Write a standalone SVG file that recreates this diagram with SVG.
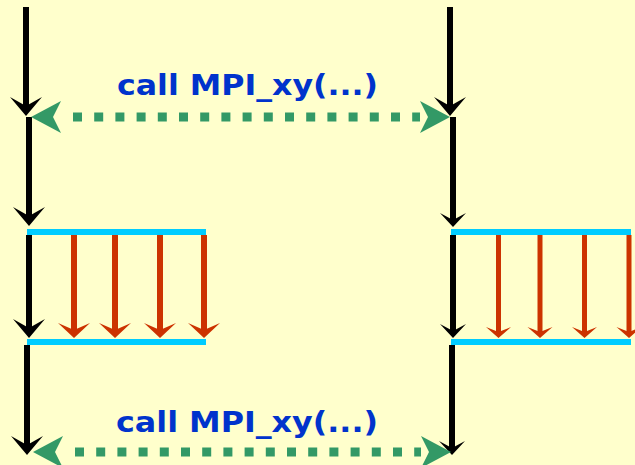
<svg xmlns="http://www.w3.org/2000/svg" width="635" height="465" viewBox="0 0 635 465">
<style>
.bk{stroke:#000;stroke-width:6;fill:none}
.rd{stroke:#CC3300;fill:none}
.cy{stroke:#00CCFF;stroke-width:6;fill:none}
.gr{stroke:#339966;stroke-width:9;fill:none;stroke-dasharray:9 12.2;stroke-dashoffset:9.2}
.lbl{font-family:"DejaVu Sans","Liberation Sans",sans-serif;font-weight:bold;font-size:29px;fill:#0033CC}
</style>
<defs>
<marker id="bkB" markerUnits="userSpaceOnUse" orient="auto" refX="11" refY="0" markerWidth="20" markerHeight="34" viewBox="0 -17 20 34" overflow="visible"><path d="M19,0 L0,-16 L9,0 L0,16 Z" fill="#000"/></marker>
<marker id="bkS" markerUnits="userSpaceOnUse" orient="auto" refX="8" refY="0" markerWidth="15" markerHeight="28" viewBox="0 -14 15 28" overflow="visible"><path d="M14,0 L0,-13 L7,0 L0,13 Z" fill="#000"/></marker>
<marker id="rdL" markerUnits="userSpaceOnUse" orient="auto" refX="9" refY="0" markerWidth="16" markerHeight="34" viewBox="0 -17 16 34" overflow="visible"><path d="M15,0 L0,-16 L7,0 L0,16 Z" fill="#CC3300"/></marker>
<marker id="rdR" markerUnits="userSpaceOnUse" orient="auto" refX="7" refY="0" markerWidth="12" markerHeight="26" viewBox="0 -13 12 26" overflow="visible"><path d="M11,0 L0,-12.5 L5,0 L0,12.5 Z" fill="#CC3300"/></marker>
<marker id="grA" markerUnits="userSpaceOnUse" orient="auto-start-reverse" refX="0" refY="0" markerWidth="31" markerHeight="34" viewBox="0 -17 31 34" overflow="visible"><path d="M30,0 L0,-16 L8,0 L0,16 Z" fill="#339966"/></marker>
</defs>
<rect x="0" y="0" width="635" height="465" fill="#FFFFCC"/>

<g id="process-left">
<line class="bk" x1="26" y1="7" x2="26" y2="108" marker-end="url(#bkB)"/>
<line class="bk" x1="29" y1="117" x2="29" y2="218" marker-end="url(#bkB)"/>
<line class="bk" x1="29" y1="235" x2="29" y2="330" marker-end="url(#bkB)"/>
<line class="bk" x1="27" y1="345" x2="27" y2="447" marker-end="url(#bkB)"/>
<g id="copy-left">
<line class="cy" x1="27" y1="232" x2="206" y2="232"/>
<line class="cy" x1="27" y1="342" x2="206" y2="342"/>
<line class="rd" stroke-width="6" x1="74" y1="235" x2="74" y2="332" marker-end="url(#rdL)"/>
<line class="rd" stroke-width="6" x1="115" y1="235" x2="115" y2="332" marker-end="url(#rdL)"/>
<line class="rd" stroke-width="6" x1="160" y1="235" x2="160" y2="332" marker-end="url(#rdL)"/>
<line class="rd" stroke-width="6" x1="204" y1="235" x2="204" y2="332" marker-end="url(#rdL)"/>
</g>
</g>

<g id="process-right">
<line class="bk" x1="450" y1="7" x2="450" y2="108" marker-end="url(#bkB)"/>
<line class="bk" x1="453" y1="117" x2="453" y2="221" marker-end="url(#bkS)"/>
<line class="bk" x1="453" y1="235" x2="453" y2="332" marker-end="url(#bkS)"/>
<line class="bk" x1="452" y1="345" x2="452" y2="449" marker-end="url(#bkS)"/>
<g id="copy-right">
<line class="cy" x1="451" y1="232" x2="631" y2="232"/>
<line class="cy" x1="451" y1="342" x2="631" y2="342"/>
<line class="rd" stroke-width="5" x1="498.5" y1="235" x2="498.5" y2="334" marker-end="url(#rdR)"/>
<line class="rd" stroke-width="5" x1="540" y1="235" x2="540" y2="334" marker-end="url(#rdR)"/>
<line class="rd" stroke-width="5" x1="584.5" y1="235" x2="584.5" y2="334" marker-end="url(#rdR)"/>
<line class="rd" stroke-width="5" x1="629" y1="235" x2="629" y2="334" marker-end="url(#rdR)"/>
</g>
</g>

<g id="connectors">
<path class="gr" d="M61,117 L420,117" marker-start="url(#grA)" marker-end="url(#grA)"/>
<path class="gr" d="M63,452 L421,452" marker-start="url(#grA)" marker-end="url(#grA)"/>
</g>

<g id="labels">
<text class="lbl" x="117" y="95" textLength="261" lengthAdjust="spacingAndGlyphs">call MPI_xy(...)</text>
<text class="lbl" x="116" y="432" textLength="262" lengthAdjust="spacingAndGlyphs">call MPI_xy(...)</text>
</g>
</svg>
